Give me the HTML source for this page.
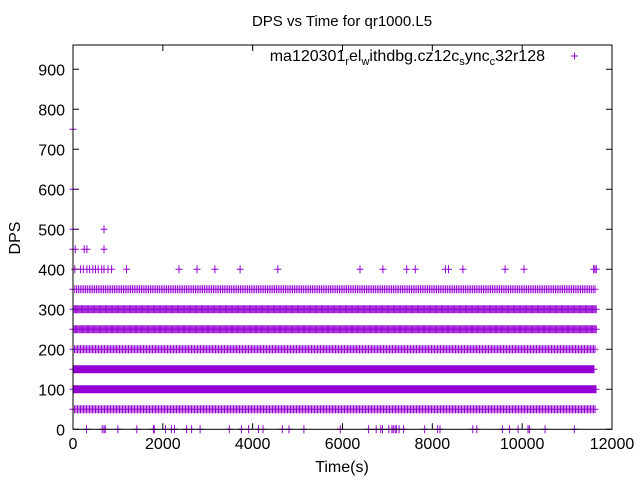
<!DOCTYPE html>
<html><head><meta charset="utf-8"><style>
html,body{margin:0;padding:0;background:#fff}
svg{display:block;font-family:"Liberation Sans",sans-serif}
</style></head><body>
<svg id="chart" width="640" height="480" viewBox="0 0 640 480">
<rect width="640" height="480" fill="#fff"/>
<text x="342" y="26" font-size="15" text-anchor="middle">DPS vs Time for qr1000.L5</text>
<text x="20" y="238" font-size="16" text-anchor="middle" transform="rotate(-90 20 238)">DPS</text>
<text x="342" y="472" font-size="16" text-anchor="middle">Time(s)</text>
<g id="axes"></g>
<g id="marks"></g>
<rect x="73" y="45" width="539" height="384.3" fill="none" stroke="#000" stroke-width="1"/>
<g>
<text x="545" y="61" font-size="16" text-anchor="end">ma120301<tspan font-size="11" dy="4">r</tspan><tspan dy="-4">el</tspan><tspan font-size="11" dy="4">w</tspan><tspan dy="-4">ithdbg.cz12c</tspan><tspan font-size="11" dy="4">s</tspan><tspan dy="-4">ync</tspan><tspan font-size="11" dy="4">c</tspan><tspan dy="-4">32r128</tspan></text>
<path d="M571,56h7M574.5,52.5v7" stroke="#9400d3" stroke-width="1"/>
</g>
</svg>
<script>
const xTicks=[0,2000,4000,6000,8000,10000,12000];
const yTicks=[0,100,200,300,400,500,600,700,800,900];
const denseLevels=[50,100,150,200,250,300,350];
const denseStart=[0,0,0,0,0,0,0];
const denseEnd=[11650,11650,11600,11650,11650,11650,11650];
const denseStep=[1.5,1,1,1.5,1.2,1.2,1.8];
const outT=[0,0,0,0,50,250,310,690,690,690,40,170,230,310,370,440,500,560,640,690,780,860,1190,2360,2760,3160,3720,4560,6390,6900,7430,7620,8290,8360,8680,9620,10040,11590,11620,11650];
const outV=[750,600,500,450,450,450,450,450,500,500,400,400,400,400,400,400,400,400,400,400,400,400,400,400,400,400,400,400,400,400,400,400,400,400,400,400,400,400,400,400];
const zeroT=[300,650,690,720,1000,1420,1790,1810,2060,2190,2260,2530,2640,2830,3480,3750,3910,4130,4230,4660,4810,5140,5950,6580,6750,6850,6890,7030,7100,7130,7170,7200,7260,7360,7830,8120,8170,8900,8990,9560,9720,9910,10130,10160,10510,11160];
const X=t=>73+t/12000*539;
const Y=v=>429.3-v*0.4;
const NS="http://www.w3.org/2000/svg";
const axes=document.getElementById('axes'),marks=document.getElementById('marks');
xTicks.forEach(t=>{
 const p=document.createElementNS(NS,'path');
 p.setAttribute('d',`M${X(t)},429.3v-6M${X(t)},45v6`);p.setAttribute('stroke','#000');
 
 
 axes.appendChild(p);
 const tx=document.createElementNS(NS,'text');
 tx.setAttribute('x',X(t));tx.setAttribute('y',449);tx.setAttribute('font-size','16');tx.setAttribute('text-anchor','middle');
 tx.textContent=t;
 
 
 axes.appendChild(tx);
});
yTicks.forEach(v=>{
 const p=document.createElementNS(NS,'path');
 p.setAttribute('d',`M73,${Y(v)}h6M612,${Y(v)}h-6`);p.setAttribute('stroke','#000');
 
 
 axes.appendChild(p);
 const tx=document.createElementNS(NS,'text');
 tx.setAttribute('x',65);tx.setAttribute('y',Y(v)+6);tx.setAttribute('font-size','16');tx.setAttribute('text-anchor','end');
 tx.textContent=v;
 
 
 axes.appendChild(tx);
});
let d='';
const plus=(x,y)=>{d+=`M${(x-3.5).toFixed(1)},${y.toFixed(1)}h7M${x.toFixed(1)},${(y-4).toFixed(1)}v8`;};
denseLevels.forEach((v,i)=>{
 for(let x=X(denseStart[i]);x<=X(denseEnd[i]);x+=denseStep[i])plus(x,Y(v));
});
outT.forEach((t,i)=>plus(X(t),Y(outV[i])));
zeroT.forEach(t=>plus(X(t),Y(0)));
const path=document.createElementNS(NS,'path');
path.setAttribute('d',d);path.setAttribute('stroke','#9400d3');path.setAttribute('stroke-width','1');path.setAttribute('fill','none');


marks.appendChild(path);
</script>
</body></html>
